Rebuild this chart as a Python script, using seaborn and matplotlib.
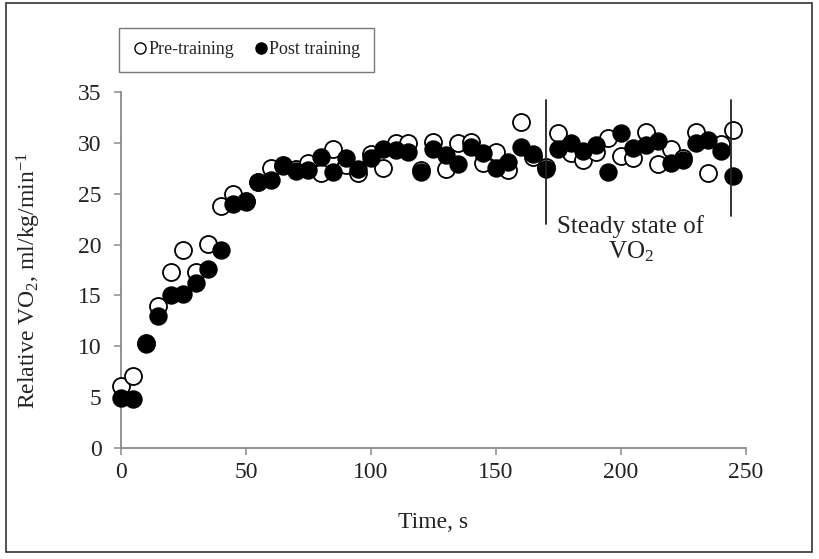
import matplotlib
matplotlib.use("Agg")
import matplotlib.pyplot as plt
import seaborn as sns
import pandas as pd
from matplotlib.lines import Line2D
from matplotlib.patches import Rectangle

time_s = [0, 5, 10, 15, 20, 25, 30, 35, 40, 45, 50, 55, 60, 65, 70, 75, 80, 85, 90, 95,
          100, 105, 110, 115, 120, 125, 130, 135, 140, 145, 150, 155, 160, 165, 170,
          175, 180, 185, 190, 195, 200, 205, 210, 215, 220, 225, 230, 235, 240, 245]

pre_training = [6.1, 7.1, 10.3, 14.0, 17.3, 19.5, 17.3, 20.1, 23.8, 25.0, 24.3, 26.1, 27.5, 27.8,
                27.4, 28.0, 27.0, 29.4, 27.8, 27.0, 28.9, 27.5, 30.0, 30.0, 27.3, 30.1, 27.4, 30.0,
                30.1, 28.0, 29.1, 27.3, 32.0, 28.6, 27.6, 30.9, 29.0, 28.3, 29.1, 30.5, 28.7, 28.5,
                31.0, 27.9, 29.4, 28.5, 31.0, 27.0, 29.9, 31.2]

post_training = [4.9, 4.8, 10.2, 13.0, 15.0, 15.1, 16.2, 17.6, 19.5, 24.0, 24.2, 26.1, 26.3, 27.7,
                 27.2, 27.3, 28.6, 27.1, 28.5, 27.4, 28.5, 29.4, 29.3, 29.1, 27.1, 29.4, 28.8, 27.9,
                 29.6, 29.0, 27.5, 28.1, 29.6, 28.9, 27.4, 29.4, 30.0, 29.2, 29.8, 27.1, 30.9, 29.5,
                 29.8, 30.2, 28.0, 28.3, 30.0, 30.3, 29.2, 26.7]

series_names = ["Pre-training", "Post training"]
steady_bounds = [170, 244]
x_ticks = [0, 50, 100, 150, 200, 250]
y_ticks = [0, 5, 10, 15, 20, 25, 30, 35]

sns.set_theme(style="white")
plt.rcParams["font.family"] = ["Liberation Serif", "DejaVu Serif"]
plt.rcParams["mathtext.fontset"] = "custom"
plt.rcParams["mathtext.rm"] = "Liberation Serif"
plt.rcParams["mathtext.it"] = "Liberation Serif:italic"

pre_df = pd.DataFrame({"t": time_s, "v": pre_training})
post_df = pd.DataFrame({"t": time_s, "v": post_training})

fig = plt.figure(figsize=(8.2, 5.59), dpi=100)
ax = fig.add_axes([121 / 820, 1 - 448.3 / 559, (746 - 121) / 820, (448.3 - 91.7) / 559])

sns.scatterplot(data=pre_df, x="t", y="v", ax=ax, s=150, color="white",
                edgecolor="black", linewidth=1.3, zorder=3, clip_on=False)
sns.scatterplot(data=post_df, x="t", y="v", ax=ax, s=150, color="black",
                edgecolor="black", linewidth=1.0, zorder=4, clip_on=False)

for xb, ytop, ybot in [(steady_bounds[0], 34.2, 22.0), (steady_bounds[1], 34.2, 22.8)]:
    ax.plot([xb, xb], [ybot, ytop], color="#222222", lw=1.3, zorder=5)

ax.text(204, 20.5, "Steady state of\nVO$_{\\mathrm{2}}$", ha="center", va="center",
        fontsize=18, color="#222222", linespacing=1.05)

ax.set_xlim(0, 250)
ax.set_ylim(0, 35)
ax.set_xticks(x_ticks)
ax.set_yticks(y_ticks)
ax.tick_params(axis="both", which="both", direction="out", length=5, width=1.1,
               color="#8a8a8a", labelsize=17, labelcolor="#222222", left=True, bottom=True)
ax.tick_params(axis="y", pad=9)
ax.tick_params(axis="x", pad=5)
for side in ["top", "right"]:
    ax.spines[side].set_visible(False)
for side in ["left", "bottom"]:
    ax.spines[side].set_color("#8a8a8a")
    ax.spines[side].set_linewidth(1.3)

ax.set_xlabel("Time, s", fontsize=17, color="#222222")
ax.set_ylabel("Relative VO$_{\\mathrm{2}}$, ml/kg/min$^{\\mathrm{-1}}$", fontsize=17, color="#222222")
ax.xaxis.set_label_coords(0.5, -0.18)
ax.yaxis.set_label_coords(-0.125, 0.47)
ax.grid(False)

handles = [
    Line2D([], [], marker="o", linestyle="none", markersize=8, markerfacecolor="white",
           markeredgecolor="black", markeredgewidth=1.0),
    Line2D([], [], marker="o", linestyle="none", markersize=8, markerfacecolor="black",
           markeredgecolor="black"),
]
leg = fig.legend(handles, series_names, loc="center", bbox_to_anchor=(246.5 / 820, 1 - 50 / 559),
                 ncol=2, frameon=True, fontsize=13, handletextpad=0.05, columnspacing=1.1,
                 handlelength=0.8, borderpad=0.75, fancybox=False)
leg.get_frame().set_edgecolor("#555555")
leg.get_frame().set_linewidth(1.0)

fig.patches.append(Rectangle((6 / 820, 1 - 552 / 559), (812 - 6) / 820, (552 - 3) / 559,
                             transform=fig.transFigure, fill=False, edgecolor="#333333",
                             linewidth=1.2, zorder=10))

fig.savefig("out.png", dpi=100)
